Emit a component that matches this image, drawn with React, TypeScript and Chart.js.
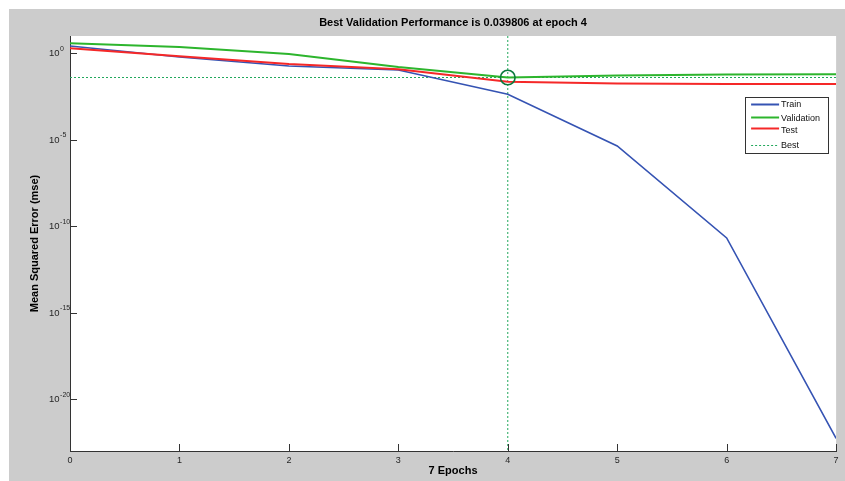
import React, { useEffect, useRef } from "react";
import { Chart, registerables } from "chart.js";

Chart.register(...registerables);

const epochs = [0, 1, 2, 3, 4, 5, 6, 7];
const trainPerf = [2.64, 0.61, 0.184, 0.108, 0.00425, 4.35e-6, 2.1e-11, 5.4e-23];
const valPerf = [3.78, 2.31, 0.91, 0.161, 0.039806, 0.052, 0.059, 0.061];
const testPerf = [1.95, 0.67, 0.24, 0.12, 0.0228, 0.0179, 0.0168, 0.0168];
const bestEpoch = 4;
const bestPerf = 0.039806;
const yTickValues = [1, 1e-5, 1e-10, 1e-15, 1e-20];
const yMin = 1e-23;
const yMax = 10;
const xMin = 0;
const xMax = 7;

const TITLE = `Best Validation Performance is ${bestPerf} at epoch ${bestEpoch}`;
const X_TITLE = `${xMax} Epochs`;
const Y_TITLE = "Mean Squared Error (mse)";

const FONT = "'Liberation Sans', Arial, Helvetica, sans-serif";
const BLUE = "#3553b3";
const GREEN = "#2db52d";
const RED = "#f52828";
const BEST = "#22a85c";
const CIRCLE = "#0b7a3e";

const matlabPlugin = {
  id: "matlabLook",
  beforeDraw(chart: any) {
    const { ctx, chartArea: a } = chart;
    ctx.save();
    ctx.fillStyle = "#ffffff";
    ctx.fillRect(a.left, a.top, a.right - a.left, a.bottom - a.top);
    ctx.restore();
  },
  afterDraw(chart: any) {
    const { ctx, chartArea: a } = chart;
    const xs = chart.scales.x;
    const ys = chart.scales.y;
    ctx.save();
    // inward tick marks
    ctx.strokeStyle = "#333333";
    ctx.lineWidth = 1;
    ctx.beginPath();
    xs.ticks.forEach((t: any) => {
      const px = Math.round(xs.getPixelForValue(t.value)) + 0.5;
      ctx.moveTo(px, a.bottom);
      ctx.lineTo(px, a.bottom - 7);
    });
    ys.ticks.forEach((t: any) => {
      const py = Math.round(ys.getPixelForValue(t.value)) + 0.5;
      ctx.moveTo(a.left, py);
      ctx.lineTo(a.left + 7, py);
    });
    ctx.stroke();

    // y tick labels 10^n
    ctx.fillStyle = "#262626";
    ctx.textBaseline = "middle";
    ctx.textAlign = "left";
    ys.ticks.forEach((t: any) => {
      const py = ys.getPixelForValue(t.value);
      const exp = Math.round(Math.log10(t.value));
      const bx = a.left - 21;
      ctx.font = `9.5px ${FONT}`;
      ctx.fillText("10", bx, py + 0.5);
      const w = ctx.measureText("10").width;
      ctx.font = `7px ${FONT}`;
      ctx.fillText(String(exp), bx + w + 0.5, py - 4.5);
    });

    // legend
    const bw = 83;
    const bh = 56;
    const bx = a.right - 8 - bw;
    const by = a.top + 61;
    ctx.fillStyle = "#ffffff";
    ctx.fillRect(bx, by, bw, bh);
    ctx.strokeStyle = "#333333";
    ctx.lineWidth = 1;
    ctx.strokeRect(Math.round(bx) + 0.5, Math.round(by) + 0.5, bw, bh);
    const lineYs = [7.5, 20.5, 31.5, 48.5];
    const textYs = [7.5, 22, 33.5, 49];
    const items = chart.data.datasets
      .filter((d: any) => d.legendIndex !== undefined)
      .sort((p: any, q: any) => p.legendIndex - q.legendIndex);
    items.forEach((d: any, i: number) => {
      ctx.strokeStyle = d.borderColor;
      ctx.lineWidth = d.legendWidth || d.borderWidth;
      ctx.setLineDash(d.borderDash || []);
      ctx.beginPath();
      ctx.moveTo(bx + 6, by + lineYs[i]);
      ctx.lineTo(bx + 34, by + lineYs[i]);
      ctx.stroke();
      ctx.setLineDash([]);
      ctx.fillStyle = "#111111";
      ctx.font = `9px ${FONT}`;
      ctx.textBaseline = "middle";
      ctx.fillText(d.label, bx + 36, by + textYs[i]);
    });
    ctx.restore();
  },
};

export default function App() {
  const ref = useRef<HTMLCanvasElement | null>(null);

  useEffect(() => {
    if (!ref.current) return;
    const toPts = (arr: number[]) => arr.map((v, i) => ({ x: epochs[i], y: v }));
    const chart = new Chart(ref.current, {
      type: "line",
      data: {
        datasets: [
          {
            label: "Best circle",
            data: [{ x: bestEpoch, y: bestPerf }],
            showLine: false,
            pointRadius: 7.3,
            pointHoverRadius: 7.3,
            pointBorderWidth: 1.6,
            borderColor: CIRCLE,
            pointBorderColor: CIRCLE,
            pointBackgroundColor: "rgba(0,0,0,0)",
            backgroundColor: "rgba(0,0,0,0)",
          } as any,
          {
            label: "Test",
            data: toPts(testPerf),
            borderColor: RED,
            borderWidth: 2,
            pointRadius: 0,
            tension: 0,
            legendIndex: 2,
            order: 1,
          } as any,
          {
            label: "Validation",
            data: toPts(valPerf),
            borderColor: GREEN,
            borderWidth: 2,
            pointRadius: 0,
            tension: 0,
            legendIndex: 1,
            order: 2,
          } as any,
          {
            label: "Train",
            data: toPts(trainPerf),
            borderColor: BLUE,
            borderWidth: 1.6,
            legendWidth: 2,
            pointRadius: 0,
            tension: 0,
            legendIndex: 0,
            order: 3,
          } as any,
          {
            label: "Best",
            data: [
              { x: xMin, y: bestPerf },
              { x: xMax, y: bestPerf },
            ],
            borderColor: BEST,
            borderWidth: 1,
            borderDash: [2, 2],
            pointRadius: 0,
            legendIndex: 3,
            order: 4,
          } as any,
          {
            label: "",
            data: [
              { x: bestEpoch, y: yMax },
              { x: bestEpoch, y: yMin },
            ],
            borderColor: BEST,
            borderWidth: 1,
            borderDash: [2, 2],
            pointRadius: 0,
            order: 5,
          } as any,
        ],
      },
      options: {
        animation: false,
        responsive: false,
        events: [],
        layout: { padding: { left: 0, right: 8, top: 0, bottom: 0 } },
        plugins: {
          legend: { display: false },
          tooltip: { enabled: false },
          title: {
            display: true,
            text: TITLE,
            fullSize: false,
            color: "#000000",
            font: { family: FONT, size: 11, weight: "bold", lineHeight: 1.2 },
            padding: { top: 7.4, bottom: 6.4 },
          },
        },
        scales: {
          x: {
            type: "linear",
            min: xMin,
            max: xMax,
            ticks: {
              stepSize: 1,
              color: "#262626",
              font: { family: FONT, size: 9 },
              padding: 4,
              maxRotation: 0,
            },
            grid: { drawOnChartArea: false, drawTicks: false },
            border: { display: true, color: "#333333", width: 1 },
            title: {
              display: true,
              text: X_TITLE,
              color: "#000000",
              font: { family: FONT, size: 11, weight: "bold", lineHeight: 1.2 },
              padding: { top: 0, bottom: 3.4 },
            },
            afterFit: (s: any) => {
              s.height = 30;
            },
          },
          y: {
            type: "logarithmic",
            min: yMin,
            max: yMax,
            afterBuildTicks: (s: any) => {
              s.ticks = yTickValues.map((v) => ({ value: v }));
            },
            ticks: {
              callback: () => "",
              font: { family: FONT, size: 9 },
            },
            grid: { drawOnChartArea: false, drawTicks: false },
            border: { display: true, color: "#333333", width: 1 },
            title: {
              display: true,
              text: Y_TITLE,
              color: "#000000",
              font: { family: FONT, size: 11, weight: "bold", lineHeight: 1.2 },
              padding: { top: 19.4, bottom: 0 },
            },
            afterFit: (s: any) => {
              s.width = 61;
            },
          },
        },
      } as any,
      plugins: [matlabPlugin],
    });
    return () => chart.destroy();
  }, []);

  return (
    <div
      style={{
        position: "fixed",
        left: 9,
        top: 9,
        width: 836,
        height: 472,
        background: "#cccccc",
        overflow: "hidden",
      }}
    >
      <canvas ref={ref} width={836} height={472} style={{ display: "block" }} />
    </div>
  );
}
